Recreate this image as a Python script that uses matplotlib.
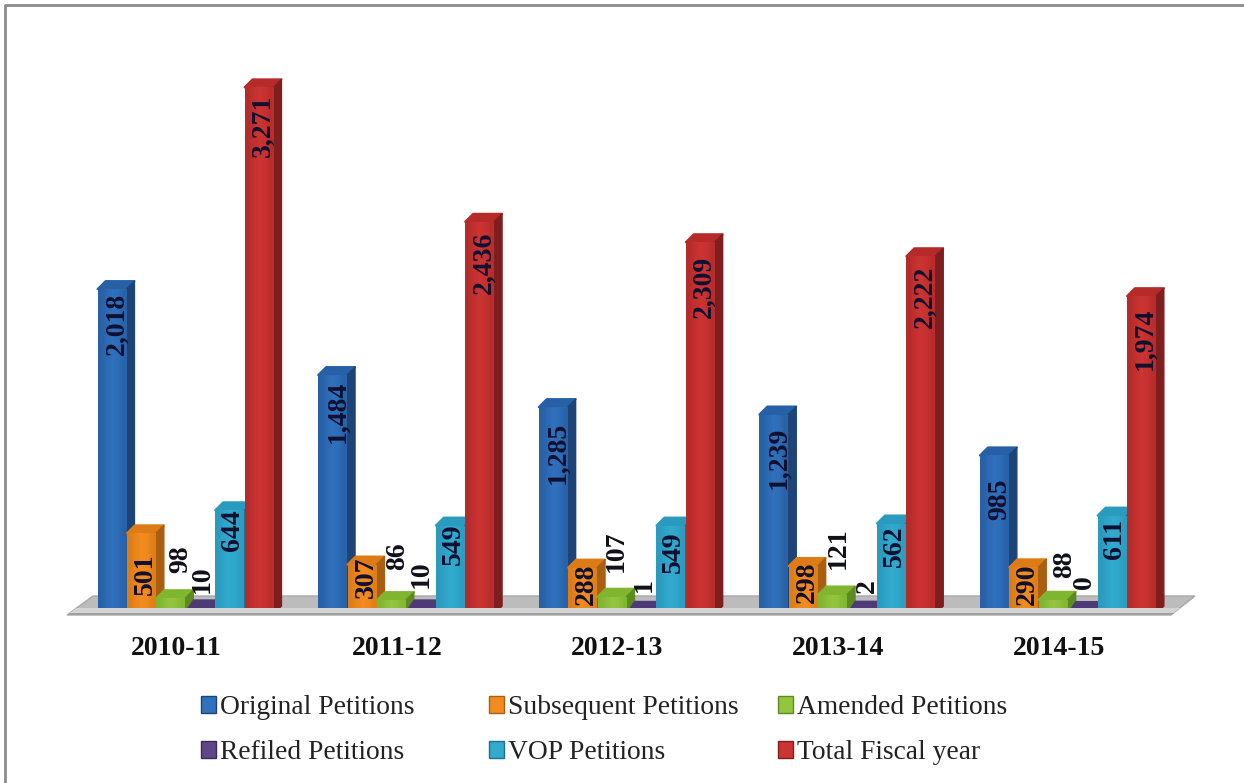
import numpy as np
import matplotlib
matplotlib.use('Agg')
import matplotlib.pyplot as plt
from matplotlib.colors import LinearSegmentedColormap
from matplotlib.lines import Line2D
from matplotlib.patches import Patch, Polygon

plt.rcParams['font.family'] = ['Liberation Serif', 'DejaVu Serif']

years = ['2010-11', '2011-12', '2012-13', '2013-14', '2014-15']
original = [2018, 1484, 1285, 1239, 985]
subsequent = [501, 307, 288, 298, 290]
amended = [98, 86, 107, 121, 88]
refiled = [10, 10, 1, 2, 0]
vop = [644, 549, 549, 562, 611]
total = [3271, 2436, 2309, 2222, 1974]

names = ['Original Petitions', 'Subsequent Petitions', 'Amended Petitions',
         'Refiled Petitions', 'VOP Petitions', 'Total Fiscal year']
series = [original, subsequent, amended, refiled, vop, total]

# edge, middle, side colours for each series
colours = [('#2760a6', '#3070bc', '#1d4377'),
           ('#dd7c16', '#f28c20', '#a85f12'),
           ('#7fb52f', '#94c53f', '#5e8a22'),
           ('#4f3a78', '#5f4689', '#3a2a5a'),
           ('#2a9bbf', '#31aace', '#1c7188'),
           ('#b52b2a', '#cb3432', '#7e1e1f')]

# label nudges in pixels
label_dy = [[-4, -6, -15, -12, -23],
            [-20, 8, 4, 5, 4],
            [25, 30, 25, 26, 22],
            [19, 24, 22, 21, 25],
            [1, 2, -6, -2, -3],
            [-7, -10, -13, -9, -11]]
label_dx = [[5, 5, 5, 5, 5],
            [4, 4, 4, 4, 4],
            [10, 6, 4, 6, 11],
            [2, 0, 3, 5, 2],
            [3, 3, 3, 3, 3],
            [4, 4, 4, 4, 4]]

W, H = 1244, 783
fig = plt.figure(figsize=(W / 100, H / 100), dpi=100)
ax = fig.add_axes([77 / W, 1 - 614 / H, 1103 / W, 563.5 / H])
ax.patch.set_visible(False)

ax.set_xlim(-0.5, 4.5)
ax.set_ylim(0, 3500)
unit_x = 1 / 220.6
unit_y = 3500 / 563.5
bar_w = 28.9 * unit_x
depth_x = 8 * unit_x
depth_y = 8 * unit_y


def poly(points, **kw):
    fig.add_artist(Polygon([(x / W, 1 - y / H) for x, y in points],
                           transform=fig.transFigure, **kw))


# frame, only the left and top edges show in the original
fig.add_artist(Line2D([5 / W, 5 / W, 1], [0, 1 - 5 / H, 1 - 5 / H], transform=fig.transFigure,
                      color='#8c8c8c', lw=2, zorder=-2))
# floor of the 3d chart, the front strip is in front of the bars
poly([(67, 615), (93, 596), (1195, 596), (1171, 615)], fc='#bcbcbc', ec='#a8a8a8', lw=1, zorder=-1)
poly([(67, 615), (76.5, 608), (1180, 608), (1171, 615)], fc='#d4d4d4', ec='none', zorder=1)
poly([(67, 615), (70, 613), (1174, 613), (1171, 615)], fc='#a0a0a0', ec='none', zorder=1)

grad = np.array([[0.0, 0.6, 1.0, 0.8, 0.15]])
z = 2
for g in range(len(years)):
    for j, vals in enumerate(series):
        x0 = g + ((j - 2.5) * 29.4 - 1.8) * unit_x
        h = vals[g]
        edge, mid, side = colours[j]
        left, right = x0 - bar_w / 2, x0 + bar_w / 2
        # the purple bars are so short that only a deeper top shows
        top_y = depth_y * 1.5 if j == 3 else depth_y
        ax.add_patch(Polygon([(left, h), (left + depth_x, h + top_y),
                              (right + depth_x, h + top_y), (right, h)],
                             fc=edge, ec=edge, lw=1.5, joinstyle='round', zorder=z))
        ax.add_patch(Polygon([(right, 0), (right + depth_x, top_y),
                              (right + depth_x, h + top_y), (right, h)],
                             fc=side, ec=side, lw=1, joinstyle='round', zorder=z))
        if h > 0:
            bar = ax.bar(x0, h, width=bar_w, color=mid, zorder=z + 0.1)[0]
            cmap = LinearSegmentedColormap.from_list('bar', [edge, mid])
            im = ax.imshow(grad, extent=(left, right, 0, h), aspect='auto', cmap=cmap,
                           vmin=0, vmax=1, interpolation='bilinear', zorder=z + 0.2)
            im.set_clip_path(bar)
        z += 1

# value labels drawn over all the bars
for g in range(len(years)):
    for j, vals in enumerate(series):
        x0 = g + ((j - 2.5) * 29.4 - 1.8) * unit_x
        h = vals[g]
        above = j in (2, 3)
        ax.annotate(f'{h:,}', (x0, h), xytext=(label_dx[j][g], label_dy[j][g]),
                    textcoords='offset pixels', rotation=90, ha='center',
                    va='bottom' if above else 'top', fontsize=20, fontweight='bold',
                    color='#101018' if above else '#101030', zorder=200)

ax.set_xticks([g - 11 * unit_x for g in range(len(years))])
ax.set_xticklabels(years, fontsize=20, fontweight='bold', color='#111111')
ax.tick_params(axis='x', length=0, pad=15.7)
ax.set_yticks([])
for s in ax.spines.values():
    s.set_visible(False)

# one legend per column, columns are not evenly spaced in the original
col_x = [201, 489, 778]
rows = [[0, 3], [1, 4], [2, 5]]
for cx, idx in zip(col_x, rows):
    handles = [Patch(fc=colours[i][1], ec=colours[i][2], lw=1, label=names[i]) for i in idx]
    fig.legend(handles=handles, loc='upper left', bbox_to_anchor=(cx / W, 1 - 695 / H),
               frameon=False, fontsize=19.8, handlelength=0.56, handleheight=0.56,
               handletextpad=0.12, labelspacing=0.73, borderpad=0, borderaxespad=0,
               labelcolor='#222222')

fig.savefig('out.png', dpi=100)
